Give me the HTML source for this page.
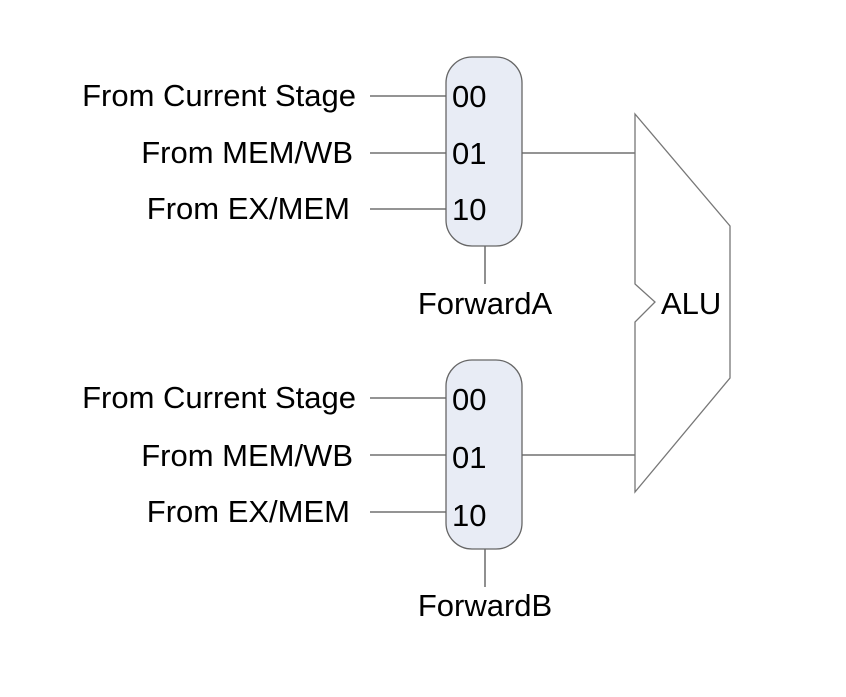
<!DOCTYPE html>
<html><head><style>body{margin:0;background:#fff}</style></head><body>
<svg width="846" height="692" xmlns="http://www.w3.org/2000/svg" font-family="Liberation Sans, Arial, sans-serif" font-size="31" fill="#000">
<rect x="0" y="0" width="846" height="692" fill="#fff"/>
<g stroke="#555" stroke-width="1.3" fill="none">
<line x1="370" y1="96" x2="446" y2="96"/>
<line x1="370" y1="153" x2="446" y2="153"/>
<line x1="370" y1="209" x2="446" y2="209"/>
<line x1="522" y1="153" x2="635" y2="153"/>
<line x1="485" y1="246" x2="485" y2="284"/>
<line x1="370" y1="398" x2="446" y2="398"/>
<line x1="370" y1="455" x2="446" y2="455"/>
<line x1="370" y1="512" x2="446" y2="512"/>
<line x1="522" y1="455" x2="635" y2="455"/>
<line x1="485" y1="549" x2="485" y2="587"/>
<polygon points="635,114 730,226 730,378 635,492 635,322 655,302 635,284" stroke="#777"/>
</g>
<rect x="446" y="57" width="76" height="189" rx="26" fill="#e8ecf5" stroke="#666" stroke-width="1.3"/>
<rect x="446" y="360" width="76" height="189" rx="26" fill="#e8ecf5" stroke="#666" stroke-width="1.3"/>
<g text-anchor="end">
<text x="356" y="106">From Current Stage</text>
<text x="353" y="163">From MEM/WB</text>
<text x="350" y="219">From EX/MEM</text>
<text x="356" y="408">From Current Stage</text>
<text x="353" y="466">From MEM/WB</text>
<text x="350" y="522">From EX/MEM</text>
</g>
<text x="452" y="107">00</text>
<text x="452" y="164">01</text>
<text x="452" y="220">10</text>
<text x="452" y="410">00</text>
<text x="452" y="468">01</text>
<text x="452" y="526">10</text>
<text x="485" y="314" text-anchor="middle">ForwardA</text>
<text x="485" y="616" text-anchor="middle">ForwardB</text>
<text x="661" y="314">ALU</text>
</svg>
</body></html>
